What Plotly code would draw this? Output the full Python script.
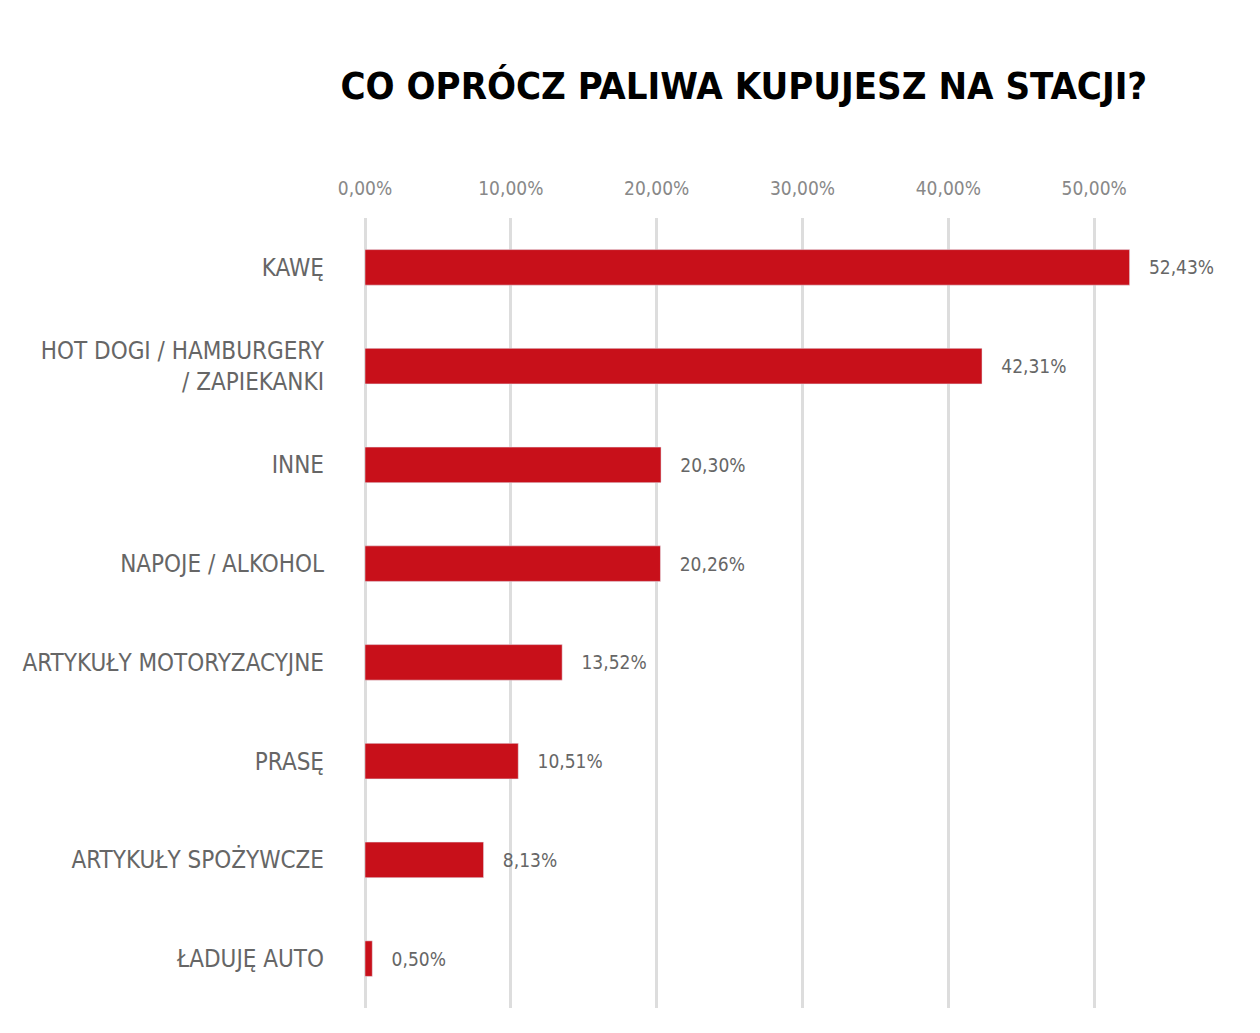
import plotly.graph_objects as go

categories = ["KAWĘ", "HOT DOGI / HAMBURGERY<br>/ ZAPIEKANKI", "INNE", "NAPOJE / ALKOHOL",
              "ARTYKUŁY MOTORYZACYJNE", "PRASĘ", "ARTYKUŁY SPOŻYWCZE", "ŁADUJĘ AUTO"]
values = [52.43, 42.31, 20.30, 20.26, 13.52, 10.51, 8.13, 0.50]
tick_vals = [0, 10, 20, 30, 40, 50, 60]
tick_text = ["0,00%", "10,00%", "20,00%", "30,00%", "40,00%", "50,00%", "60,00%"]

font = "DejaVu Sans Condensed, Liberation Sans Narrow, sans-serif"
labels = ["   " + f"{v:.2f}%".replace(".", ",") for v in values]

fig = go.Figure(go.Bar(
    y=categories, x=values, orientation="h", marker_color="#c8101a",
    text=labels, textposition="outside", cliponaxis=False,
    textfont=dict(family=font, size=19, color="#666666"),
))
fig.update_layout(
    width=1260, height=1033, plot_bgcolor="white", paper_bgcolor="white",
    margin=dict(l=357, r=28, t=210, b=33), bargap=0.64, showlegend=False,
    title=dict(text="<b>CO OPRÓCZ PALIWA KUPUJESZ NA STACJI?</b>", x=0.584, xanchor="center",
               y=0.925, yanchor="middle", font=dict(family=font, size=38, color="black")),
)
fig.update_xaxes(range=[0, 60], tickvals=tick_vals, ticktext=tick_text, side="top",
                 showgrid=True, gridcolor="#dddddd", gridwidth=3, zeroline=True,
                 zerolinecolor="#dddddd", zerolinewidth=3, automargin=False,
                 tickfont=dict(family=font, size=19, color="#888888"), ticklabelstandoff=18)
fig.update_yaxes(autorange="reversed", tickfont=dict(family=font, size=24, color="#666666"),
                 ticklabelstandoff=40, showline=False, automargin=False)
fig.write_html("out.html")
